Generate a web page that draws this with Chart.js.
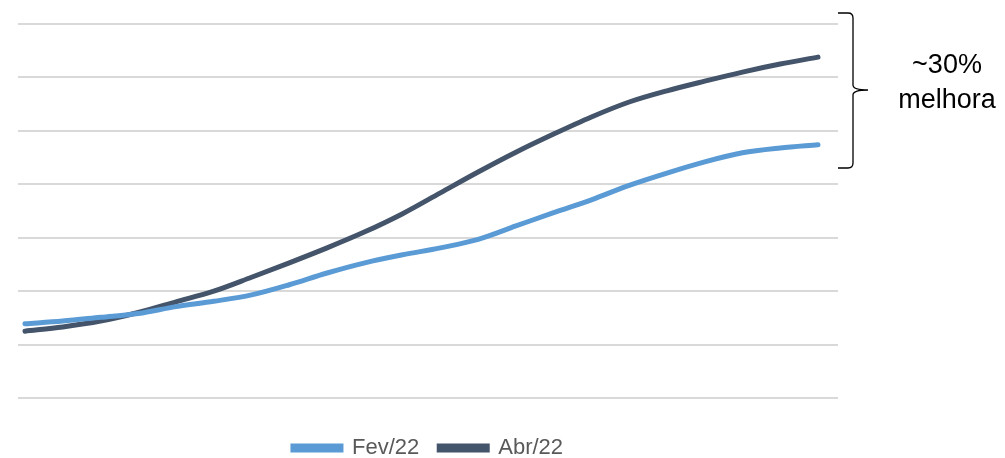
<!DOCTYPE html>
<html>
<head>
<meta charset="utf-8">
<script src="https://cdn.jsdelivr.net/npm/chart.js@4"></script>
<style>
  html, body { margin: 0; padding: 0; background: #fff; }
  #wrap { position: relative; width: 1005px; height: 458px; }
</style>
</head>
<body>
<div id="wrap"><canvas id="line_chart" width="1005" height="458"></canvas></div>
<script>
// weekly points, no axis labels on the original
const weeks = [0,1,2,3,4,5,6,7,8,9,10,11,12,13,14,15,16,17,18,19,20,21];
const fev22 = [1.39,1.44,1.51,1.58,1.71,1.81,1.93,2.12,2.34,2.53,2.68,2.81,2.97,3.22,3.47,3.71,3.98,4.21,4.42,4.59,4.68,4.74];
const abr22 = [1.25,1.33,1.44,1.60,1.80,2.00,2.26,2.53,2.81,3.11,3.45,3.84,4.23,4.60,4.94,5.26,5.54,5.75,5.93,6.10,6.25,6.38];
const seriesNames = ["Fev/22", "Abr/22"];
const annotationText = ["~30%", "melhora"];

const toPoints = arr => arr.map((v, i) => ({ x: weeks[i], y: v }));

// curly brace + label on the right
const bracePlugin = {
    id: 'brace',
    afterLayout(chart) {
        // push legend row a bit lower than chart.js puts it
        chart.legend.top += 19;
        chart.legend.bottom += 19;
    },
    afterDraw(chart) {
        const c = chart.ctx;
        c.save();
        c.strokeStyle = '#000';
        c.lineWidth = 1.3;
        const x0 = 838, xv = 853, xm = 868, top = 13, mid = 90, bot = 168, r = 5;
        c.beginPath();
        c.moveTo(x0, top);
        c.lineTo(xv - r, top);
        c.quadraticCurveTo(xv, top, xv, top + r);
        c.lineTo(xv, mid - r);
        c.quadraticCurveTo(xv, mid, xm, mid);
        c.moveTo(xm, mid);
        c.quadraticCurveTo(xv, mid, xv, mid + r);
        c.lineTo(xv, bot - r);
        c.quadraticCurveTo(xv, bot, xv - r, bot);
        c.lineTo(x0, bot);
        c.stroke();
        c.fillStyle = '#000';
        c.font = '27px "Liberation Sans", Arial, sans-serif';
        c.textAlign = 'center';
        c.textBaseline = 'middle';
        c.fillText(annotationText[0], 947, 66);
        c.fillText(annotationText[1], 947, 101);
        c.restore();
    }
};

const config_Line = {
    type: 'line',
    data: {
        datasets: [
            {
                label: seriesNames[0],
                data: toPoints(fev22),
                borderColor: '#5B9BD5',
                backgroundColor: '#5B9BD5',
                borderWidth: 5,
                borderCapStyle: 'round',
                pointRadius: 0,
                tension: 0.4,
                cubicInterpolationMode: 'monotone'
            },
            {
                label: seriesNames[1],
                data: toPoints(abr22),
                borderColor: '#44546A',
                backgroundColor: '#44546A',
                borderWidth: 5,
                borderCapStyle: 'round',
                pointRadius: 0,
                tension: 0.4,
                cubicInterpolationMode: 'monotone'
            }
        ]
    },
    options: {
        responsive: false,
        animation: false,
        layout: { padding: { left: 18, right: 167, top: 24, bottom: 8 } },
        scales: {
            x: { type: 'linear', min: -0.185, max: 21.53, display: false },
            y: {
                min: 0, max: 7,
                ticks: { display: false, stepSize: 1 },
                border: { display: false },
                grid: { color: '#d9d9d9', lineWidth: 2, drawTicks: false }
            }
        },
        plugins: {
            legend: {
                position: 'bottom',
                labels: {
                    boxWidth: 48,
                    boxHeight: 4,
                    padding: 20,
                    color: '#595959',
                    font: { size: 22, family: '"Liberation Sans", Arial, sans-serif' }
                }
            },
            tooltip: { enabled: false }
        }
    },
    plugins: [bracePlugin]
};

const ctx_Line = document.getElementById('line_chart').getContext('2d');
const myChart_Line = new Chart(ctx_Line, config_Line);
</script>
</body>
</html>
